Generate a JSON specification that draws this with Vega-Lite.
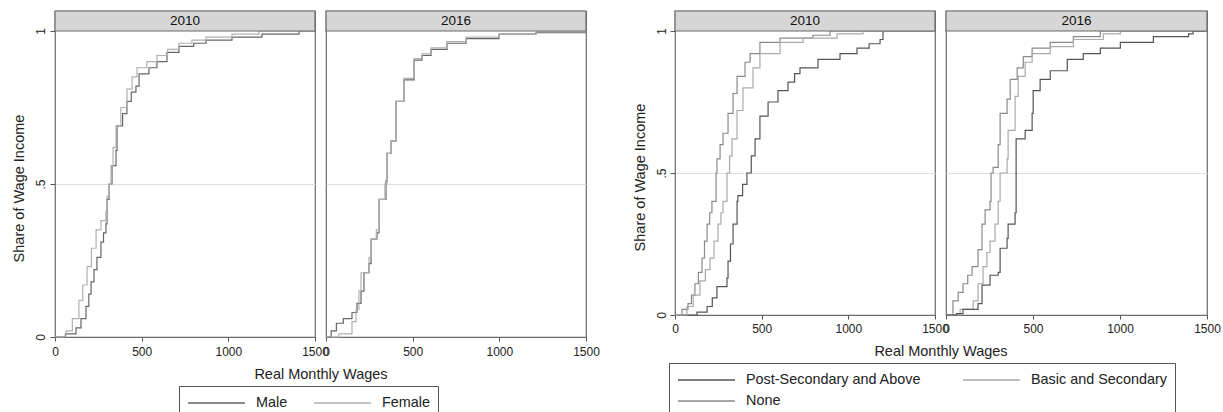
{
  "$schema": "https://vega.github.io/schema/vega-lite/v6.json",
  "background": "white",
  "padding": {"left": 10, "top": 9, "right": 0, "bottom": 0},
  "spacing": 31,
  "resolve": {"scale": {"color": "independent"}},
  "datasets": {
    "cdf": [
      {"g":"a","y":2010,"s":"Male","w":0,"p":0},{"g":"a","y":2010,"s":"Male","w":60,"p":0.01},{"g":"a","y":2010,"s":"Male","w":121,"p":0.03},{"g":"a","y":2010,"s":"Male","w":150,"p":0.06},{"g":"a","y":2010,"s":"Male","w":179,"p":0.10},{"g":"a","y":2010,"s":"Male","w":195,"p":0.14},{"g":"a","y":2010,"s":"Male","w":208,"p":0.18},{"g":"a","y":2010,"s":"Male","w":225,"p":0.22},{"g":"a","y":2010,"s":"Male","w":242,"p":0.26},{"g":"a","y":2010,"s":"Male","w":265,"p":0.31},{"g":"a","y":2010,"s":"Male","w":280,"p":0.34},{"g":"a","y":2010,"s":"Male","w":294,"p":0.37},{"g":"a","y":2010,"s":"Male","w":300,"p":0.45},{"g":"a","y":2010,"s":"Male","w":312,"p":0.50},{"g":"a","y":2010,"s":"Male","w":329,"p":0.56},{"g":"a","y":2010,"s":"Male","w":352,"p":0.61},{"g":"a","y":2010,"s":"Male","w":358,"p":0.69},{"g":"a","y":2010,"s":"Male","w":390,"p":0.73},{"g":"a","y":2010,"s":"Male","w":415,"p":0.77},{"g":"a","y":2010,"s":"Male","w":440,"p":0.80},{"g":"a","y":2010,"s":"Male","w":467,"p":0.82},{"g":"a","y":2010,"s":"Male","w":485,"p":0.86},{"g":"a","y":2010,"s":"Male","w":542,"p":0.88},{"g":"a","y":2010,"s":"Male","w":588,"p":0.90},{"g":"a","y":2010,"s":"Male","w":646,"p":0.93},{"g":"a","y":2010,"s":"Male","w":715,"p":0.95},{"g":"a","y":2010,"s":"Male","w":800,"p":0.96},{"g":"a","y":2010,"s":"Male","w":871,"p":0.97},{"g":"a","y":2010,"s":"Male","w":1021,"p":0.98},{"g":"a","y":2010,"s":"Male","w":1194,"p":0.99},{"g":"a","y":2010,"s":"Male","w":1408,"p":1},{"g":"a","y":2010,"s":"Male","w":1500,"p":1},
      {"g":"a","y":2010,"s":"Female","w":0,"p":0},{"g":"a","y":2010,"s":"Female","w":63,"p":0.02},{"g":"a","y":2010,"s":"Female","w":100,"p":0.06},{"g":"a","y":2010,"s":"Female","w":138,"p":0.12},{"g":"a","y":2010,"s":"Female","w":160,"p":0.17},{"g":"a","y":2010,"s":"Female","w":185,"p":0.23},{"g":"a","y":2010,"s":"Female","w":210,"p":0.29},{"g":"a","y":2010,"s":"Female","w":237,"p":0.35},{"g":"a","y":2010,"s":"Female","w":265,"p":0.38},{"g":"a","y":2010,"s":"Female","w":294,"p":0.41},{"g":"a","y":2010,"s":"Female","w":300,"p":0.46},{"g":"a","y":2010,"s":"Female","w":312,"p":0.50},{"g":"a","y":2010,"s":"Female","w":323,"p":0.56},{"g":"a","y":2010,"s":"Female","w":335,"p":0.62},{"g":"a","y":2010,"s":"Female","w":352,"p":0.69},{"g":"a","y":2010,"s":"Female","w":380,"p":0.75},{"g":"a","y":2010,"s":"Female","w":415,"p":0.81},{"g":"a","y":2010,"s":"Female","w":445,"p":0.85},{"g":"a","y":2010,"s":"Female","w":473,"p":0.88},{"g":"a","y":2010,"s":"Female","w":530,"p":0.90},{"g":"a","y":2010,"s":"Female","w":588,"p":0.92},{"g":"a","y":2010,"s":"Female","w":650,"p":0.94},{"g":"a","y":2010,"s":"Female","w":715,"p":0.96},{"g":"a","y":2010,"s":"Female","w":790,"p":0.97},{"g":"a","y":2010,"s":"Female","w":871,"p":0.98},{"g":"a","y":2010,"s":"Female","w":1021,"p":0.99},{"g":"a","y":2010,"s":"Female","w":1177,"p":1},{"g":"a","y":2010,"s":"Female","w":1500,"p":1},
      {"g":"a","y":2016,"s":"Male","w":0,"p":0},{"g":"a","y":2016,"s":"Male","w":30,"p":0.02},{"g":"a","y":2016,"s":"Male","w":60,"p":0.045},{"g":"a","y":2016,"s":"Male","w":100,"p":0.06},{"g":"a","y":2016,"s":"Male","w":150,"p":0.08},{"g":"a","y":2016,"s":"Male","w":179,"p":0.11},{"g":"a","y":2016,"s":"Male","w":202,"p":0.15},{"g":"a","y":2016,"s":"Male","w":219,"p":0.21},{"g":"a","y":2016,"s":"Male","w":248,"p":0.24},{"g":"a","y":2016,"s":"Male","w":260,"p":0.32},{"g":"a","y":2016,"s":"Male","w":294,"p":0.34},{"g":"a","y":2016,"s":"Male","w":306,"p":0.45},{"g":"a","y":2016,"s":"Male","w":346,"p":0.51},{"g":"a","y":2016,"s":"Male","w":352,"p":0.60},{"g":"a","y":2016,"s":"Male","w":375,"p":0.64},{"g":"a","y":2016,"s":"Male","w":404,"p":0.77},{"g":"a","y":2016,"s":"Male","w":450,"p":0.84},{"g":"a","y":2016,"s":"Male","w":508,"p":0.905},{"g":"a","y":2016,"s":"Male","w":554,"p":0.92},{"g":"a","y":2016,"s":"Male","w":606,"p":0.94},{"g":"a","y":2016,"s":"Male","w":698,"p":0.96},{"g":"a","y":2016,"s":"Male","w":808,"p":0.975},{"g":"a","y":2016,"s":"Male","w":998,"p":0.99},{"g":"a","y":2016,"s":"Male","w":1211,"p":0.995},{"g":"a","y":2016,"s":"Male","w":1500,"p":1},
      {"g":"a","y":2016,"s":"Female","w":0,"p":0},{"g":"a","y":2016,"s":"Female","w":75,"p":0.01},{"g":"a","y":2016,"s":"Female","w":150,"p":0.05},{"g":"a","y":2016,"s":"Female","w":173,"p":0.09},{"g":"a","y":2016,"s":"Female","w":190,"p":0.15},{"g":"a","y":2016,"s":"Female","w":202,"p":0.21},{"g":"a","y":2016,"s":"Female","w":248,"p":0.26},{"g":"a","y":2016,"s":"Female","w":260,"p":0.32},{"g":"a","y":2016,"s":"Female","w":290,"p":0.35},{"g":"a","y":2016,"s":"Female","w":306,"p":0.45},{"g":"a","y":2016,"s":"Female","w":340,"p":0.50},{"g":"a","y":2016,"s":"Female","w":352,"p":0.60},{"g":"a","y":2016,"s":"Female","w":375,"p":0.64},{"g":"a","y":2016,"s":"Female","w":404,"p":0.77},{"g":"a","y":2016,"s":"Female","w":450,"p":0.845},{"g":"a","y":2016,"s":"Female","w":508,"p":0.91},{"g":"a","y":2016,"s":"Female","w":554,"p":0.925},{"g":"a","y":2016,"s":"Female","w":606,"p":0.945},{"g":"a","y":2016,"s":"Female","w":698,"p":0.965},{"g":"a","y":2016,"s":"Female","w":808,"p":0.98},{"g":"a","y":2016,"s":"Female","w":998,"p":0.99},{"g":"a","y":2016,"s":"Female","w":1211,"p":0.997},{"g":"a","y":2016,"s":"Female","w":1500,"p":1},
      {"g":"b","y":2010,"s":"Post-Secondary and Above","w":0,"p":0},{"g":"b","y":2010,"s":"Post-Secondary and Above","w":127,"p":0.01},{"g":"b","y":2010,"s":"Post-Secondary and Above","w":185,"p":0.03},{"g":"b","y":2010,"s":"Post-Secondary and Above","w":215,"p":0.06},{"g":"b","y":2010,"s":"Post-Secondary and Above","w":242,"p":0.10},{"g":"b","y":2010,"s":"Post-Secondary and Above","w":300,"p":0.13},{"g":"b","y":2010,"s":"Post-Secondary and Above","w":306,"p":0.19},{"g":"b","y":2010,"s":"Post-Secondary and Above","w":320,"p":0.25},{"g":"b","y":2010,"s":"Post-Secondary and Above","w":335,"p":0.32},{"g":"b","y":2010,"s":"Post-Secondary and Above","w":358,"p":0.40},{"g":"b","y":2010,"s":"Post-Secondary and Above","w":363,"p":0.42},{"g":"b","y":2010,"s":"Post-Secondary and Above","w":390,"p":0.46},{"g":"b","y":2010,"s":"Post-Secondary and Above","w":415,"p":0.50},{"g":"b","y":2010,"s":"Post-Secondary and Above","w":440,"p":0.56},{"g":"b","y":2010,"s":"Post-Secondary and Above","w":462,"p":0.62},{"g":"b","y":2010,"s":"Post-Secondary and Above","w":490,"p":0.70},{"g":"b","y":2010,"s":"Post-Secondary and Above","w":537,"p":0.75},{"g":"b","y":2010,"s":"Post-Secondary and Above","w":594,"p":0.79},{"g":"b","y":2010,"s":"Post-Secondary and Above","w":652,"p":0.82},{"g":"b","y":2010,"s":"Post-Secondary and Above","w":690,"p":0.85},{"g":"b","y":2010,"s":"Post-Secondary and Above","w":721,"p":0.87},{"g":"b","y":2010,"s":"Post-Secondary and Above","w":825,"p":0.90},{"g":"b","y":2010,"s":"Post-Secondary and Above","w":952,"p":0.92},{"g":"b","y":2010,"s":"Post-Secondary and Above","w":1050,"p":0.94},{"g":"b","y":2010,"s":"Post-Secondary and Above","w":1120,"p":0.955},{"g":"b","y":2010,"s":"Post-Secondary and Above","w":1183,"p":0.97},{"g":"b","y":2010,"s":"Post-Secondary and Above","w":1200,"p":1},{"g":"b","y":2010,"s":"Post-Secondary and Above","w":1500,"p":1},
      {"g":"b","y":2010,"s":"None","w":0,"p":0},{"g":"b","y":2010,"s":"None","w":40,"p":0.02},{"g":"b","y":2010,"s":"None","w":75,"p":0.04},{"g":"b","y":2010,"s":"None","w":95,"p":0.07},{"g":"b","y":2010,"s":"None","w":115,"p":0.11},{"g":"b","y":2010,"s":"None","w":135,"p":0.15},{"g":"b","y":2010,"s":"None","w":156,"p":0.20},{"g":"b","y":2010,"s":"None","w":170,"p":0.26},{"g":"b","y":2010,"s":"None","w":185,"p":0.32},{"g":"b","y":2010,"s":"None","w":200,"p":0.36},{"g":"b","y":2010,"s":"None","w":213,"p":0.40},{"g":"b","y":2010,"s":"None","w":237,"p":0.50},{"g":"b","y":2010,"s":"None","w":242,"p":0.55},{"g":"b","y":2010,"s":"None","w":260,"p":0.60},{"g":"b","y":2010,"s":"None","w":277,"p":0.64},{"g":"b","y":2010,"s":"None","w":306,"p":0.71},{"g":"b","y":2010,"s":"None","w":335,"p":0.78},{"g":"b","y":2010,"s":"None","w":358,"p":0.84},{"g":"b","y":2010,"s":"None","w":404,"p":0.89},{"g":"b","y":2010,"s":"None","w":433,"p":0.92},{"g":"b","y":2010,"s":"None","w":490,"p":0.96},{"g":"b","y":2010,"s":"None","w":606,"p":0.975},{"g":"b","y":2010,"s":"None","w":796,"p":0.985},{"g":"b","y":2010,"s":"None","w":894,"p":1},{"g":"b","y":2010,"s":"None","w":1500,"p":1},
      {"g":"b","y":2010,"s":"Basic and Secondary","w":0,"p":0},{"g":"b","y":2010,"s":"Basic and Secondary","w":69,"p":0.03},{"g":"b","y":2010,"s":"Basic and Secondary","w":105,"p":0.07},{"g":"b","y":2010,"s":"Basic and Secondary","w":144,"p":0.12},{"g":"b","y":2010,"s":"Basic and Secondary","w":175,"p":0.16},{"g":"b","y":2010,"s":"Basic and Secondary","w":202,"p":0.20},{"g":"b","y":2010,"s":"Basic and Secondary","w":225,"p":0.26},{"g":"b","y":2010,"s":"Basic and Secondary","w":248,"p":0.32},{"g":"b","y":2010,"s":"Basic and Secondary","w":265,"p":0.36},{"g":"b","y":2010,"s":"Basic and Secondary","w":277,"p":0.40},{"g":"b","y":2010,"s":"Basic and Secondary","w":300,"p":0.50},{"g":"b","y":2010,"s":"Basic and Secondary","w":315,"p":0.56},{"g":"b","y":2010,"s":"Basic and Secondary","w":329,"p":0.62},{"g":"b","y":2010,"s":"Basic and Secondary","w":358,"p":0.72},{"g":"b","y":2010,"s":"Basic and Secondary","w":392,"p":0.80},{"g":"b","y":2010,"s":"Basic and Secondary","w":450,"p":0.87},{"g":"b","y":2010,"s":"Basic and Secondary","w":490,"p":0.92},{"g":"b","y":2010,"s":"Basic and Secondary","w":606,"p":0.96},{"g":"b","y":2010,"s":"Basic and Secondary","w":738,"p":0.975},{"g":"b","y":2010,"s":"Basic and Secondary","w":935,"p":0.99},{"g":"b","y":2010,"s":"Basic and Secondary","w":1085,"p":1},{"g":"b","y":2010,"s":"Basic and Secondary","w":1500,"p":1},
      {"g":"b","y":2016,"s":"None","w":0,"p":0},{"g":"b","y":2016,"s":"None","w":40,"p":0.05},{"g":"b","y":2016,"s":"None","w":70,"p":0.08},{"g":"b","y":2016,"s":"None","w":98,"p":0.11},{"g":"b","y":2016,"s":"None","w":125,"p":0.14},{"g":"b","y":2016,"s":"None","w":150,"p":0.17},{"g":"b","y":2016,"s":"None","w":184,"p":0.23},{"g":"b","y":2016,"s":"None","w":207,"p":0.32},{"g":"b","y":2016,"s":"None","w":225,"p":0.37},{"g":"b","y":2016,"s":"None","w":253,"p":0.40},{"g":"b","y":2016,"s":"None","w":259,"p":0.50},{"g":"b","y":2016,"s":"None","w":271,"p":0.52},{"g":"b","y":2016,"s":"None","w":300,"p":0.60},{"g":"b","y":2016,"s":"None","w":311,"p":0.71},{"g":"b","y":2016,"s":"None","w":351,"p":0.76},{"g":"b","y":2016,"s":"None","w":369,"p":0.83},{"g":"b","y":2016,"s":"None","w":409,"p":0.87},{"g":"b","y":2016,"s":"None","w":444,"p":0.91},{"g":"b","y":2016,"s":"None","w":495,"p":0.94},{"g":"b","y":2016,"s":"None","w":599,"p":0.96},{"g":"b","y":2016,"s":"None","w":732,"p":0.98},{"g":"b","y":2016,"s":"None","w":887,"p":1},{"g":"b","y":2016,"s":"None","w":1500,"p":1},
      {"g":"b","y":2016,"s":"Basic and Secondary","w":0,"p":0},{"g":"b","y":2016,"s":"Basic and Secondary","w":81,"p":0.02},{"g":"b","y":2016,"s":"Basic and Secondary","w":156,"p":0.05},{"g":"b","y":2016,"s":"Basic and Secondary","w":184,"p":0.11},{"g":"b","y":2016,"s":"Basic and Secondary","w":213,"p":0.17},{"g":"b","y":2016,"s":"Basic and Secondary","w":235,"p":0.22},{"g":"b","y":2016,"s":"Basic and Secondary","w":253,"p":0.26},{"g":"b","y":2016,"s":"Basic and Secondary","w":282,"p":0.32},{"g":"b","y":2016,"s":"Basic and Secondary","w":300,"p":0.40},{"g":"b","y":2016,"s":"Basic and Secondary","w":311,"p":0.50},{"g":"b","y":2016,"s":"Basic and Secondary","w":351,"p":0.55},{"g":"b","y":2016,"s":"Basic and Secondary","w":357,"p":0.65},{"g":"b","y":2016,"s":"Basic and Secondary","w":397,"p":0.77},{"g":"b","y":2016,"s":"Basic and Secondary","w":415,"p":0.84},{"g":"b","y":2016,"s":"Basic and Secondary","w":455,"p":0.89},{"g":"b","y":2016,"s":"Basic and Secondary","w":495,"p":0.92},{"g":"b","y":2016,"s":"Basic and Secondary","w":599,"p":0.945},{"g":"b","y":2016,"s":"Basic and Secondary","w":732,"p":0.97},{"g":"b","y":2016,"s":"Basic and Secondary","w":904,"p":0.99},{"g":"b","y":2016,"s":"Basic and Secondary","w":1002,"p":1},{"g":"b","y":2016,"s":"Basic and Secondary","w":1500,"p":1},
      {"g":"b","y":2016,"s":"Post-Secondary and Above","w":0,"p":0},{"g":"b","y":2016,"s":"Post-Secondary and Above","w":60,"p":0.005},{"g":"b","y":2016,"s":"Post-Secondary and Above","w":98,"p":0.02},{"g":"b","y":2016,"s":"Post-Secondary and Above","w":184,"p":0.04},{"g":"b","y":2016,"s":"Post-Secondary and Above","w":207,"p":0.105},{"g":"b","y":2016,"s":"Post-Secondary and Above","w":253,"p":0.14},{"g":"b","y":2016,"s":"Post-Secondary and Above","w":300,"p":0.15},{"g":"b","y":2016,"s":"Post-Secondary and Above","w":311,"p":0.235},{"g":"b","y":2016,"s":"Post-Secondary and Above","w":351,"p":0.27},{"g":"b","y":2016,"s":"Post-Secondary and Above","w":357,"p":0.32},{"g":"b","y":2016,"s":"Post-Secondary and Above","w":397,"p":0.36},{"g":"b","y":2016,"s":"Post-Secondary and Above","w":403,"p":0.62},{"g":"b","y":2016,"s":"Post-Secondary and Above","w":455,"p":0.65},{"g":"b","y":2016,"s":"Post-Secondary and Above","w":495,"p":0.71},{"g":"b","y":2016,"s":"Post-Secondary and Above","w":501,"p":0.79},{"g":"b","y":2016,"s":"Post-Secondary and Above","w":541,"p":0.83},{"g":"b","y":2016,"s":"Post-Secondary and Above","w":599,"p":0.86},{"g":"b","y":2016,"s":"Post-Secondary and Above","w":697,"p":0.90},{"g":"b","y":2016,"s":"Post-Secondary and Above","w":789,"p":0.92},{"g":"b","y":2016,"s":"Post-Secondary and Above","w":887,"p":0.94},{"g":"b","y":2016,"s":"Post-Secondary and Above","w":1002,"p":0.96},{"g":"b","y":2016,"s":"Post-Secondary and Above","w":1192,"p":0.98},{"g":"b","y":2016,"s":"Post-Secondary and Above","w":1394,"p":0.99},{"g":"b","y":2016,"s":"Post-Secondary and Above","w":1420,"p":1},{"g":"b","y":2016,"s":"Post-Secondary and Above","w":1500,"p":1}
    ]
  },
  "hconcat": [
    {
      "spacing": 11,
      "bounds": "flush",
      "hconcat": [
        {
          "width": 260, "height": 326,
          "layer": [
            {"data": {"name": "cdf"}, "transform": [{"filter": "datum.g == 'a' && datum.y == 2010"}],
             "mark": {"type": "line", "interpolate": "step-after", "strokeWidth": 1.2},
             "encoding": {
               "x": {"field": "w", "type": "quantitative", "scale": {"domain": [0, 1500], "nice": false},
                     "axis": {"values": [0, 500, 1000, 1500], "format": "d", "title": "Real Monthly Wages", "titleX": 265.5, "titleY": 30, "titleBaseline": "top", "titleAlign": "center", "tickSize": 4, "labelPadding": 5}},
               "y": {"field": "p", "type": "quantitative", "scale": {"domain": [0, 1.0654], "nice": false},
                     "axis": {"values": [0, 0.5, 1], "grid": true, "gridColor": "#dddddd", "gridOpacity": {"condition": {"test": "datum.value == 0.5", "value": 1}, "value": 0}, "labelExpr": "datum.value == 0.5 ? '.5' : (datum.value == 1 ? '1' : '0')", "labelAngle": 270, "labelAlign": "center", "labelBaseline": "alphabetic", "labelPadding": 6, "tickSize": 5, "title": "Share of Wage Income", "titleX": -32, "titleY": 177, "titleAngle": 270, "titleBaseline": "alphabetic", "titleAlign": "center"}},
               "color": {"field": "s", "type": "nominal", "scale": {"domain": ["Male", "Female"], "range": ["#666666", "#b0b0b0"]},
                         "legend": {"orient": "none", "legendX": 124, "legendY": 375, "columns": 2, "columnPadding": 25, "title": null}},
               "detail": {"field": "s"}
             }},
            {"data": {"values": [{"t": "2010"}]}, "mark": {"type": "rect", "fill": "#d6d6d6", "stroke": "#6a6a6a", "strokeWidth": 1.2},
             "encoding": {"x": {"datum": 0, "type": "quantitative", "scale": {"domain": [0, 1500], "nice": false},
                     "axis": {"values": [0, 500, 1000, 1500], "format": "d", "title": "Real Monthly Wages", "titleX": 265.5, "titleY": 30, "titleBaseline": "top", "titleAlign": "center", "tickSize": 4, "labelPadding": 5}},
               "x2": {"datum": 1500},
               "y": {"datum": 1, "type": "quantitative", "scale": {"domain": [0, 1.0654], "nice": false},
                     "axis": {"values": [0, 0.5, 1], "grid": true, "gridColor": "#dddddd", "gridOpacity": {"condition": {"test": "datum.value == 0.5", "value": 1}, "value": 0}, "labelExpr": "datum.value == 0.5 ? '.5' : (datum.value == 1 ? '1' : '0')", "labelAngle": 270, "labelAlign": "center", "labelBaseline": "alphabetic", "labelPadding": 6, "tickSize": 5, "title": "Share of Wage Income", "titleX": -32, "titleY": 177, "titleAngle": 270, "titleBaseline": "alphabetic", "titleAlign": "center"}},
               "y2": {"datum": 1.0654}}},
            {"data": {"values": [{"t": "2010"}]}, "mark": {"type": "text", "fontSize": 13.5, "color": "#111", "baseline": "middle", "align": "center"},
             "encoding": {"x": {"datum": 750, "type": "quantitative", "scale": {"domain": [0, 1500], "nice": false},
                     "axis": {"values": [0, 500, 1000, 1500], "format": "d", "title": "Real Monthly Wages", "titleX": 265.5, "titleY": 30, "titleBaseline": "top", "titleAlign": "center", "tickSize": 4, "labelPadding": 5}},
               "y": {"datum": 1.0327, "type": "quantitative", "scale": {"domain": [0, 1.0654], "nice": false},
                     "axis": {"values": [0, 0.5, 1], "grid": true, "gridColor": "#dddddd", "gridOpacity": {"condition": {"test": "datum.value == 0.5", "value": 1}, "value": 0}, "labelExpr": "datum.value == 0.5 ? '.5' : (datum.value == 1 ? '1' : '0')", "labelAngle": 270, "labelAlign": "center", "labelBaseline": "alphabetic", "labelPadding": 6, "tickSize": 5, "title": "Share of Wage Income", "titleX": -32, "titleY": 177, "titleAngle": 270, "titleBaseline": "alphabetic", "titleAlign": "center"}},
               "text": {"field": "t"}}}
          ]
        },
        {
          "width": 260, "height": 326,
          "layer": [
            {"data": {"name": "cdf"}, "transform": [{"filter": "datum.g == 'a' && datum.y == 2016"}],
             "mark": {"type": "line", "interpolate": "step-after", "strokeWidth": 1.2},
             "encoding": {
               "x": {"field": "w", "type": "quantitative", "scale": {"domain": [0, 1500], "nice": false},
                     "axis": {"values": [0, 500, 1000, 1500], "format": "d", "title": null, "tickSize": 4, "labelPadding": 5}},
               "y": {"field": "p", "type": "quantitative", "scale": {"domain": [0, 1.0654], "nice": false},
                     "axis": {"values": [0.5], "grid": true, "gridColor": "#dddddd", "labels": false, "ticks": false, "title": null}},
               "color": {"field": "s", "type": "nominal", "scale": {"domain": ["Male", "Female"], "range": ["#666666", "#b0b0b0"]},
                         "legend": {"orient": "none", "legendX": 124, "legendY": 375, "columns": 2, "columnPadding": 25, "title": null}},
               "detail": {"field": "s"}
             }},
            {"data": {"values": [{"t": "2016"}]}, "mark": {"type": "rect", "fill": "#d6d6d6", "stroke": "#6a6a6a", "strokeWidth": 1.2},
             "encoding": {"x": {"datum": 0, "type": "quantitative", "scale": {"domain": [0, 1500], "nice": false},
                     "axis": {"values": [0, 500, 1000, 1500], "format": "d", "title": null, "tickSize": 4, "labelPadding": 5}},
               "x2": {"datum": 1500},
               "y": {"datum": 1, "type": "quantitative", "scale": {"domain": [0, 1.0654], "nice": false},
                     "axis": {"values": [0.5], "grid": true, "gridColor": "#dddddd", "labels": false, "ticks": false, "title": null}},
               "y2": {"datum": 1.0654}}},
            {"data": {"values": [{"t": "2016"}]}, "mark": {"type": "text", "fontSize": 13.5, "color": "#111", "baseline": "middle", "align": "center"},
             "encoding": {"x": {"datum": 750, "type": "quantitative", "scale": {"domain": [0, 1500], "nice": false},
                     "axis": {"values": [0, 500, 1000, 1500], "format": "d", "title": null, "tickSize": 4, "labelPadding": 5}},
               "y": {"datum": 1.0327, "type": "quantitative", "scale": {"domain": [0, 1.0654], "nice": false},
                     "axis": {"values": [0.5], "grid": true, "gridColor": "#dddddd", "labels": false, "ticks": false, "title": null}},
               "text": {"field": "t"}}}
          ]
        }
      ]
    },
    {
      "spacing": 11,
      "bounds": "flush",
      "hconcat": [
        {
          "width": 260, "height": 304,
          "layer": [
            {"data": {"name": "cdf"}, "transform": [{"filter": "datum.g == 'b' && datum.y == 2010"}],
             "mark": {"type": "line", "interpolate": "step-after", "strokeWidth": 1.2},
             "encoding": {
               "x": {"field": "w", "type": "quantitative", "scale": {"domain": [0, 1500], "nice": false},
                     "axis": {"values": [0, 500, 1000, 1500], "format": "d", "title": "Real Monthly Wages", "titleX": 265.5, "titleY": 29, "titleBaseline": "top", "titleAlign": "center", "tickSize": 4, "labelPadding": 4}},
               "y": {"field": "p", "type": "quantitative", "scale": {"domain": [0, 1.0704], "nice": false},
                     "axis": {"values": [0, 0.5, 1], "grid": true, "gridColor": "#dddddd", "gridOpacity": {"condition": {"test": "datum.value == 0.5", "value": 1}, "value": 0}, "labelExpr": "datum.value == 0.5 ? '.5' : (datum.value == 1 ? '1' : '0')", "labelAngle": 270, "labelAlign": "center", "labelBaseline": "alphabetic", "labelPadding": 5, "tickSize": 5, "title": "Share of Wage Income", "titleX": -31, "titleY": 166, "titleAngle": 270, "titleBaseline": "alphabetic", "titleAlign": "center"}},
               "color": {"field": "s", "type": "nominal", "scale": {"domain": ["Post-Secondary and Above", "None", "Basic and Secondary"], "range": ["#555555", "#8a8a8a", "#aaaaaa"]},
                         "legend": {"orient": "none", "legendX": -6, "legendY": 352, "columns": 2, "columnPadding": 40, "title": null}},
               "detail": {"field": "s"}
             }},
            {"data": {"values": [{"t": "2010"}]}, "mark": {"type": "rect", "fill": "#d6d6d6", "stroke": "#6a6a6a", "strokeWidth": 1.2},
             "encoding": {"x": {"datum": 0, "type": "quantitative", "scale": {"domain": [0, 1500], "nice": false},
                     "axis": {"values": [0, 500, 1000, 1500], "format": "d", "title": "Real Monthly Wages", "titleX": 265.5, "titleY": 29, "titleBaseline": "top", "titleAlign": "center", "tickSize": 4, "labelPadding": 4}},
               "x2": {"datum": 1500},
               "y": {"datum": 1, "type": "quantitative", "scale": {"domain": [0, 1.0704], "nice": false},
                     "axis": {"values": [0, 0.5, 1], "grid": true, "gridColor": "#dddddd", "gridOpacity": {"condition": {"test": "datum.value == 0.5", "value": 1}, "value": 0}, "labelExpr": "datum.value == 0.5 ? '.5' : (datum.value == 1 ? '1' : '0')", "labelAngle": 270, "labelAlign": "center", "labelBaseline": "alphabetic", "labelPadding": 5, "tickSize": 5, "title": "Share of Wage Income", "titleX": -31, "titleY": 166, "titleAngle": 270, "titleBaseline": "alphabetic", "titleAlign": "center"}},
               "y2": {"datum": 1.0704}}},
            {"data": {"values": [{"t": "2010"}]}, "mark": {"type": "text", "fontSize": 13.5, "color": "#111", "baseline": "middle", "align": "center"},
             "encoding": {"x": {"datum": 750, "type": "quantitative", "scale": {"domain": [0, 1500], "nice": false},
                     "axis": {"values": [0, 500, 1000, 1500], "format": "d", "title": "Real Monthly Wages", "titleX": 265.5, "titleY": 29, "titleBaseline": "top", "titleAlign": "center", "tickSize": 4, "labelPadding": 4}},
               "y": {"datum": 1.0352, "type": "quantitative", "scale": {"domain": [0, 1.0704], "nice": false},
                     "axis": {"values": [0, 0.5, 1], "grid": true, "gridColor": "#dddddd", "gridOpacity": {"condition": {"test": "datum.value == 0.5", "value": 1}, "value": 0}, "labelExpr": "datum.value == 0.5 ? '.5' : (datum.value == 1 ? '1' : '0')", "labelAngle": 270, "labelAlign": "center", "labelBaseline": "alphabetic", "labelPadding": 5, "tickSize": 5, "title": "Share of Wage Income", "titleX": -31, "titleY": 166, "titleAngle": 270, "titleBaseline": "alphabetic", "titleAlign": "center"}},
               "text": {"field": "t"}}}
          ]
        },
        {
          "width": 261, "height": 304,
          "layer": [
            {"data": {"name": "cdf"}, "transform": [{"filter": "datum.g == 'b' && datum.y == 2016"}],
             "mark": {"type": "line", "interpolate": "step-after", "strokeWidth": 1.2},
             "encoding": {
               "x": {"field": "w", "type": "quantitative", "scale": {"domain": [0, 1500], "nice": false},
                     "axis": {"values": [0, 500, 1000, 1500], "format": "d", "title": null, "tickSize": 4, "labelPadding": 4}},
               "y": {"field": "p", "type": "quantitative", "scale": {"domain": [0, 1.0704], "nice": false},
                     "axis": {"values": [0.5], "grid": true, "gridColor": "#dddddd", "labels": false, "ticks": false, "title": null}},
               "color": {"field": "s", "type": "nominal", "scale": {"domain": ["Post-Secondary and Above", "None", "Basic and Secondary"], "range": ["#555555", "#8a8a8a", "#aaaaaa"]},
                         "legend": {"orient": "none", "legendX": -6, "legendY": 352, "columns": 2, "columnPadding": 40, "title": null}},
               "detail": {"field": "s"}
             }},
            {"data": {"values": [{"t": "2016"}]}, "mark": {"type": "rect", "fill": "#d6d6d6", "stroke": "#6a6a6a", "strokeWidth": 1.2},
             "encoding": {"x": {"datum": 0, "type": "quantitative", "scale": {"domain": [0, 1500], "nice": false},
                     "axis": {"values": [0, 500, 1000, 1500], "format": "d", "title": null, "tickSize": 4, "labelPadding": 4}},
               "x2": {"datum": 1500},
               "y": {"datum": 1, "type": "quantitative", "scale": {"domain": [0, 1.0704], "nice": false},
                     "axis": {"values": [0.5], "grid": true, "gridColor": "#dddddd", "labels": false, "ticks": false, "title": null}},
               "y2": {"datum": 1.0704}}},
            {"data": {"values": [{"t": "2016"}]}, "mark": {"type": "text", "fontSize": 13.5, "color": "#111", "baseline": "middle", "align": "center"},
             "encoding": {"x": {"datum": 750, "type": "quantitative", "scale": {"domain": [0, 1500], "nice": false},
                     "axis": {"values": [0, 500, 1000, 1500], "format": "d", "title": null, "tickSize": 4, "labelPadding": 4}},
               "y": {"datum": 1.0352, "type": "quantitative", "scale": {"domain": [0, 1.0704], "nice": false},
                     "axis": {"values": [0.5], "grid": true, "gridColor": "#dddddd", "labels": false, "ticks": false, "title": null}},
               "text": {"field": "t"}}}
          ]
        }
      ]
    }
  ],
  "config": {
    "font": "Liberation Sans",
    "view": {"stroke": "#6a6a6a", "strokeWidth": 1.2},
    "axis": {"domain": false, "grid": false, "labelFont": "Liberation Sans", "labelFontSize": 12, "labelColor": "#222222", "tickColor": "#555555", "tickWidth": 1, "labelOverlap": false, "labelFlush": false, "labelBound": false, "titleFont": "Liberation Sans", "titleFontSize": 14.5, "titleFontWeight": "normal", "titleColor": "#222222"},
    "legend": {"symbolType": "stroke", "symbolSize": 3249, "symbolStrokeWidth": 1.5, "clipHeight": 18, "rowPadding": 3, "labelFont": "Liberation Sans", "labelFontSize": 14.4, "labelColor": "#222222", "labelOffset": 10, "labelLimit": 0, "padding": 8, "strokeColor": "#555555", "fillColor": "white", "symbolOpacity": 1}
  }
}
